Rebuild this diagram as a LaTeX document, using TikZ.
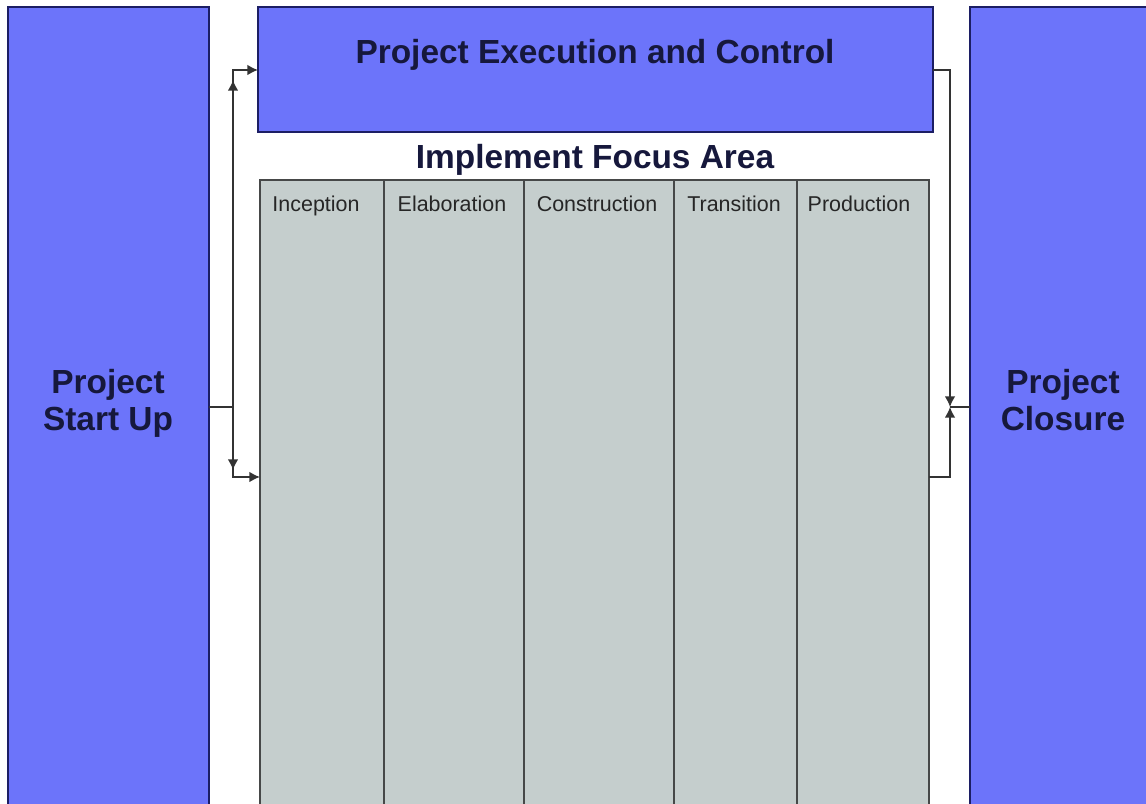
\documentclass[tikz,border=0pt]{standalone}
\usepackage{fontspec}
\setmainfont{Liberation Sans}
\usetikzlibrary{arrows.meta}
\definecolor{phase}{RGB}{108,116,250}
\definecolor{navy}{RGB}{28,30,100}
\definecolor{cell}{RGB}{197,206,205}
\definecolor{cellline}{RGB}{70,72,72}
\definecolor{txt}{RGB}{22,24,60}
\tikzset{
  phasebox/.style={draw=navy, fill=phase, line width=0.7pt},
  gridbox/.style={draw=cellline, fill=cell, line width=0.7pt},
  bigtext/.style={font=\fontsize{9.5}{10.5}\selectfont\bfseries, text=txt, align=center},
  coltext/.style={font=\fontsize{6.1}{7}\selectfont, text=black!85, anchor=base},
  conn/.style={draw=black!80, line width=0.45pt},
  tip/.style={-{Latex[length=3pt,width=3pt]}}
}
\begin{document}
\begin{tikzpicture}[x=0.01cm, y=-0.01cm]
\useasboundingbox (0,0) rectangle (1146,804);
\begin{scope}
\clip (0,0) rectangle (1146,804);
% side boxes
\draw[phasebox] (8,7) rectangle (209,820);
\draw[phasebox] (970,7) rectangle (1160,820);
\node[bigtext] (start) at (108,403) {Project\\Start Up};
\node[bigtext] (close) at (1063,400) {Project\\Closure};
% top box
\draw[phasebox] (258,7) rectangle (933,132);
\node[bigtext] (exec) at (595,55) {Project Execution and Control};
\node[bigtext] (focus) at (595,160) {Implement Focus Area};
% grid
\draw[gridbox] (260,180) rectangle (929,820);
\foreach \x in {384,524,674,797} \draw[cellline, line width=0.7pt] (\x,180) -- (\x,820);
\node[coltext] (c1) at (316,212) {Inception};
\node[coltext] (c2) at (452,212) {Elaboration};
\node[coltext] (c3) at (597,212) {Construction};
\node[coltext] (c4) at (734,212) {Transition};
\node[coltext] (c5) at (859,212) {Production};
\end{scope}
% connector anchor points
\coordinate (sOut) at (209,407);
\coordinate (lj) at (233,407);
\coordinate (eIn) at (258,70);
\coordinate (gIn) at (260,477);
\coordinate (eOut) at (933,70);
\coordinate (gOut) at (929,477);
\coordinate (rj) at (950,407);
\coordinate (cIn) at (970,407);
% left connectors
\draw[conn] (sOut) -- (lj);
\draw[conn, tip] (lj) |- (eIn);
\draw[conn, tip] (lj) |- (gIn);
\draw[conn, tip] (233,95) -- (233,80);
\draw[conn, tip] (233,455) -- (233,470);
% right connectors
\draw[conn, tip] (eOut) -| (rj);
\draw[conn, tip] (gOut) -| (rj);
\draw[conn] (rj) -- (cIn);
\end{tikzpicture}
\end{document}
